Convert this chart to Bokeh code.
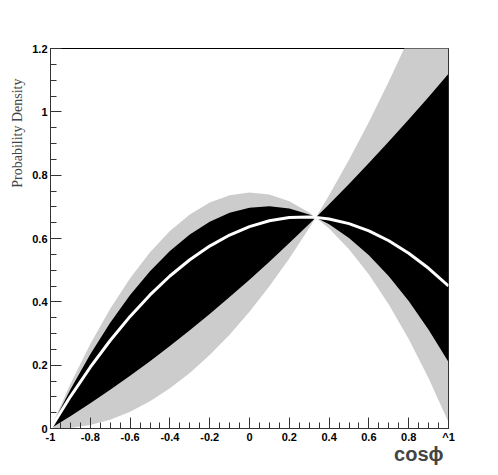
from bokeh.plotting import figure
from bokeh.models import Range1d, FixedTicker, Title
from bokeh.embed import file_html
from bokeh.resources import INLINE

# x positions (cos phi); 1/3 is where all curves cross
x = [-1.0, -0.9, -0.8, -0.7, -0.6, -0.5, -0.4, -0.3, -0.2, -0.1, 0.0,
     0.1, 0.2, 0.3, 1/3, 0.4, 0.5, 0.6, 0.7, 0.8, 0.9, 1.0]

# central curve (white)
central = [0.0, 0.1009, 0.1935, 0.2779, 0.354, 0.4219, 0.4815, 0.5329, 0.576, 0.6109, 0.6375,
           0.6559, 0.666, 0.6679, 0.6667, 0.6615, 0.6469, 0.624, 0.5929, 0.5535, 0.5059, 0.45]

# inner band (black)
black_hi = [0.0, 0.1231, 0.2343, 0.3337, 0.4212, 0.4969, 0.5607, 0.6127, 0.6528, 0.6811, 0.6975,
            0.7021, 0.6948, 0.6757, 0.6667, 0.7084, 0.7725, 0.8384, 0.9061, 0.9756, 1.0469, 1.12]
black_lo = [0.0, 0.0389, 0.0796, 0.1221, 0.1664, 0.2125, 0.2604, 0.3101, 0.3616, 0.4149, 0.47,
            0.5269, 0.5856, 0.6461, 0.6667, 0.6447, 0.6019, 0.5472, 0.4807, 0.4023, 0.3121, 0.21]

# outer band (grey)
grey_hi = [0.0, 0.1407, 0.2666, 0.3779, 0.4744, 0.5563, 0.6234, 0.6759, 0.7136, 0.7367, 0.745,
           0.7387, 0.7176, 0.6819, 0.6667, 0.7368, 0.8484, 0.968, 1.0954, 1.2308, 1.3739, 1.525]
grey_lo = [0.0, 0.0014, 0.0108, 0.0279, 0.053, 0.0859, 0.1268, 0.1754, 0.232, 0.2964, 0.3688,
           0.4489, 0.537, 0.6329, 0.6667, 0.6314, 0.5663, 0.4864, 0.3919, 0.2826, 0.1587, 0.02]

x_ticks = [-1.0, -0.8, -0.6, -0.4, -0.2, 0.0, 0.2, 0.4, 0.6, 0.8, 1.0]
x_tick_labels = ["-1", "-0.8", "-0.6", "-0.4", "-0.2", "0", "0.2", "0.4", "0.6", "0.8", "^1"]
y_ticks = [0.0, 0.2, 0.4, 0.6, 0.8, 1.0, 1.2]
y_tick_labels = ["0", "0.2", "0.4", "0.6", "0.8", "1", "1.2"]

p = figure(frame_width=398, frame_height=380,
           x_range=Range1d(-1, 1), y_range=Range1d(0, 1.2),
           output_backend="svg", toolbar_location=None,
           min_border_left=50, min_border_right=30, min_border_top=48, min_border_bottom=45,
           background_fill_color="white", border_fill_color="white")

p.varea(x=x, y1=grey_lo, y2=grey_hi, fill_color="#cccccc")
p.varea(x=x, y1=black_lo, y2=black_hi, fill_color="black")
p.line(x=x, y=central, line_color="white", line_width=3)

p.xgrid.visible = False
p.ygrid.visible = False
p.outline_line_color = "black"
p.outline_line_width = 1

x_minor = [round(-1 + 0.05 * i, 2) for i in range(41)]
y_minor = [round(0.05 * i, 2) for i in range(25)]
p.xaxis.ticker = FixedTicker(ticks=x_ticks, minor_ticks=x_minor)
p.yaxis.ticker = FixedTicker(ticks=y_ticks, minor_ticks=y_minor)
p.xaxis.major_label_overrides = {t: l for t, l in zip(x_ticks, x_tick_labels)}
p.yaxis.major_label_overrides = {t: l for t, l in zip(y_ticks, y_tick_labels)}

for ax in (p.xaxis, p.yaxis):
    ax.major_tick_in = 11
    ax.major_tick_out = 0
    ax.minor_tick_in = 6
    ax.minor_tick_out = 0
    ax.axis_line_color = "#333333"
    ax.major_tick_line_color = "#333333"
    ax.minor_tick_line_color = "#333333"
    ax.major_label_text_font = "Liberation Sans"
    ax.major_label_text_font_style = "bold"
    ax.major_label_text_font_size = "11px"
    ax.major_label_text_color = "black"
p.xaxis.major_label_standoff = 2
p.yaxis.major_label_standoff = 3

p.add_layout(Title(text="cosϕ", align="right", text_font="Liberation Sans",
                   text_font_style="bold", text_font_size="20px", standoff=-10, offset=5), "below")
p.add_layout(Title(text="Probability Density", align="right", text_font="Liberation Serif",
                   text_font_style="normal", text_font_size="14px", standoff=9, offset=30), "left")

open("out.html", "w").write(file_html(p, INLINE))
